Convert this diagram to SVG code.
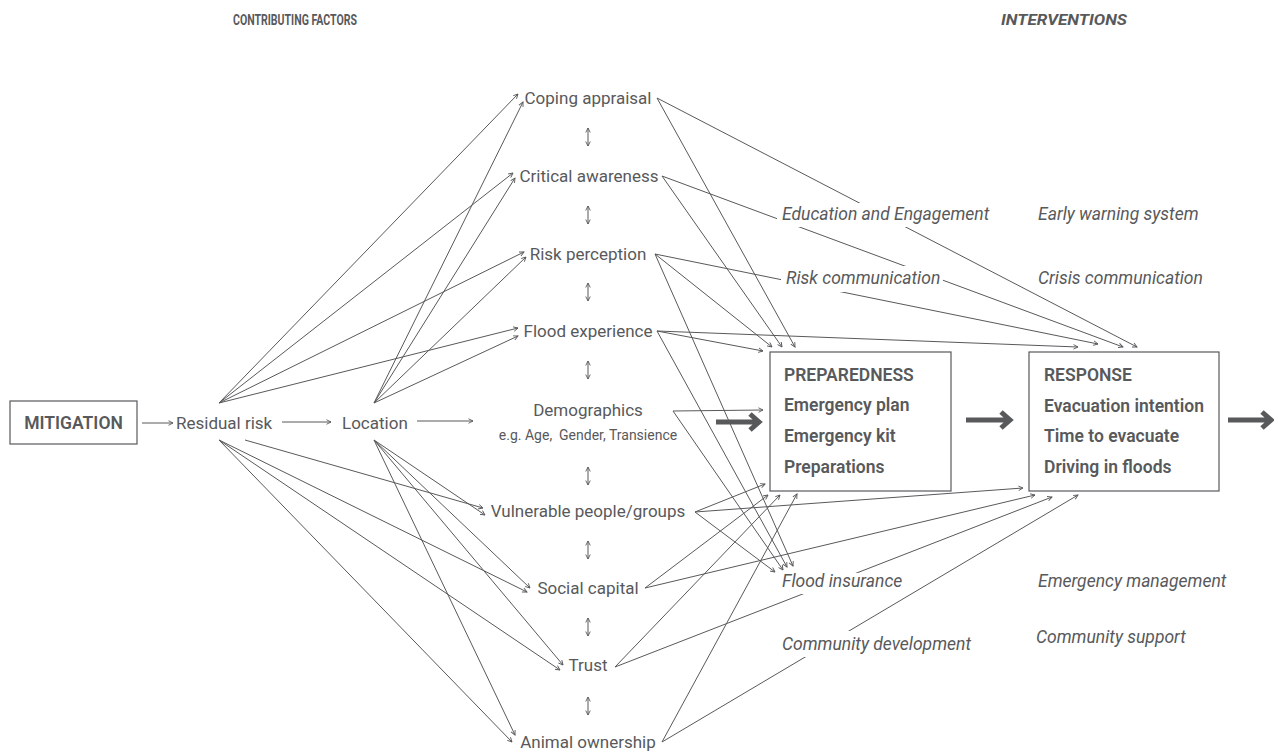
<svg xmlns="http://www.w3.org/2000/svg" width="1274" height="751" viewBox="0 0 1274 751">
<style>
text{font-family:Roboto,"Liberation Sans",sans-serif;fill:#58595b}
.n{font-size:17px;text-anchor:middle}
.l{font-size:17px}
.s{font-size:14px;text-anchor:middle}
.b{font-size:17.5px;font-weight:600}
.h{font-size:14px;font-weight:bold}
.i{font-size:17.5px;font-style:italic}
.ln{fill:none;stroke:#58595b;stroke-width:1;marker-end:url(#ah)}
.da{fill:none;stroke:#58595b;stroke-width:1;marker-end:url(#ah);marker-start:url(#ah)}
.box{fill:#fff;stroke:#58595b;stroke-width:1.2}
.halo{fill:#fff}
.thick{fill:none;stroke:#58595b;stroke-width:5}
</style>
<defs>
<marker id="ah" viewBox="0 0 8 8" refX="7" refY="4" markerWidth="6" markerHeight="6" orient="auto-start-reverse" markerUnits="userSpaceOnUse">
<path d="M1,1 L7,4 L1,7" fill="none" stroke="#58595b" stroke-width="1.2"/>
</marker>
</defs>
<rect width="1274" height="751" fill="#fff"/>

<g id="headers">
<text class="h" x="233" y="25" textLength="124" lengthAdjust="spacingAndGlyphs">CONTRIBUTING FACTORS</text>
<text class="h" x="1001" y="25" font-style="italic" textLength="126" lengthAdjust="spacingAndGlyphs">INTERVENTIONS</text>
</g>

<g id="connectors">
<line class="ln" x1="142" y1="423" x2="173" y2="423"/>
<line class="ln" x1="282" y1="422" x2="331" y2="422"/>
<line class="ln" x1="417" y1="421" x2="473" y2="421"/>
<line class="ln" x1="219" y1="403" x2="518" y2="94"/>
<line class="ln" x1="219" y1="403" x2="513" y2="173"/>
<line class="ln" x1="219" y1="403" x2="524" y2="252"/>
<line class="ln" x1="219" y1="403" x2="518" y2="328"/>
<line class="ln" x1="374" y1="403" x2="523" y2="102"/>
<line class="ln" x1="374" y1="403" x2="515" y2="178"/>
<line class="ln" x1="374" y1="403" x2="526" y2="257"/>
<line class="ln" x1="374" y1="403" x2="518" y2="336"/>
<line class="ln" x1="245" y1="440" x2="483" y2="508"/>
<line class="ln" x1="219" y1="440" x2="527" y2="592"/>
<line class="ln" x1="219" y1="440" x2="560" y2="670"/>
<line class="ln" x1="219" y1="440" x2="512" y2="742"/>
<line class="ln" x1="374" y1="440" x2="485" y2="515"/>
<line class="ln" x1="374" y1="440" x2="530" y2="588"/>
<line class="ln" x1="374" y1="440" x2="563" y2="665"/>
<line class="ln" x1="374" y1="440" x2="515" y2="735"/>
<line class="da" x1="588" y1="128" x2="588" y2="146"/>
<line class="da" x1="588" y1="206" x2="588" y2="224"/>
<line class="da" x1="588" y1="283" x2="588" y2="301"/>
<line class="da" x1="588" y1="361" x2="588" y2="379"/>
<line class="da" x1="588" y1="467" x2="588" y2="485"/>
<line class="da" x1="588" y1="541" x2="588" y2="559"/>
<line class="da" x1="588" y1="618" x2="588" y2="636"/>
<line class="da" x1="588" y1="697" x2="588" y2="715"/>
<line class="ln" x1="657" y1="98" x2="795" y2="347"/>
<line class="ln" x1="657" y1="98" x2="1137" y2="347"/>
<line class="ln" x1="662" y1="176" x2="782" y2="347"/>
<line class="ln" x1="662" y1="176" x2="1123" y2="347"/>
<line class="ln" x1="655" y1="254" x2="772" y2="347"/>
<line class="ln" x1="655" y1="254" x2="1098" y2="344"/>
<line class="ln" x1="655" y1="254" x2="793" y2="566"/>
<line class="ln" x1="657" y1="331" x2="763" y2="351"/>
<line class="ln" x1="657" y1="331" x2="1078" y2="347"/>
<line class="ln" x1="657" y1="331" x2="787" y2="567"/>
<line class="ln" x1="673" y1="411" x2="763" y2="410"/>
<line class="ln" x1="673" y1="411" x2="783" y2="570"/>
<line class="ln" x1="695" y1="512" x2="765" y2="484"/>
<line class="ln" x1="695" y1="512" x2="1023" y2="488"/>
<line class="ln" x1="695" y1="512" x2="775" y2="572"/>
<line class="ln" x1="645" y1="588" x2="768" y2="495"/>
<line class="ln" x1="645" y1="588" x2="1035" y2="495"/>
<line class="ln" x1="615" y1="667" x2="780" y2="495"/>
<line class="ln" x1="615" y1="667" x2="1052" y2="497"/>
<line class="ln" x1="662" y1="742" x2="797" y2="494"/>
<line class="ln" x1="662" y1="742" x2="1078" y2="495"/>
<path class="thick" d="M716,422 H758 M750,414 L759,422 L750,430"/>
<path class="thick" d="M966,420 H1009 M1001,412 L1010,420 L1001,428"/>
<path class="thick" d="M1228,420 H1270 M1262,412 L1271,420 L1262,428"/>
</g>

<g id="mitigation">
<rect class="box" x="10" y="401" width="127" height="43"/>
<text class="b" x="73.5" y="428.5" text-anchor="middle" font-size="15.5">MITIGATION</text>
</g>
<g id="residual-risk"><text class="l" x="176" y="429">Residual risk</text></g>
<g id="location"><text class="l" x="342" y="429">Location</text></g>

<g id="coping-appraisal"><text class="n" x="588" y="104">Coping appraisal</text></g>
<g id="critical-awareness"><text class="n" x="589" y="182">Critical awareness</text></g>
<g id="risk-perception"><text class="n" x="588" y="260">Risk perception</text></g>
<g id="flood-experience"><text class="n" x="588" y="337">Flood experience</text></g>
<g id="demographics">
<text class="n" x="588" y="416">Demographics</text>
<text class="s" x="588" y="440" xml:space="preserve">e.g. Age,  Gender, Transience</text>
</g>
<g id="vulnerable"><text class="n" x="588" y="517">Vulnerable people/groups</text></g>
<g id="social-capital"><text class="n" x="588" y="594">Social capital</text></g>
<g id="trust"><text class="n" x="588" y="671">Trust</text></g>
<g id="animal-ownership"><text class="n" x="588" y="748">Animal ownership</text></g>

<g id="preparedness">
<rect class="box" x="770" y="352" width="181" height="139"/>
<text class="b" x="784" y="381">PREPAREDNESS</text>
<text class="b" x="784" y="411">Emergency plan</text>
<text class="b" x="784" y="442">Emergency kit</text>
<text class="b" x="784" y="473">Preparations</text>
</g>
<g id="response">
<rect class="box" x="1029" y="352" width="190" height="139"/>
<text class="b" x="1044" y="381">RESPONSE</text>
<text class="b" x="1044" y="412">Evacuation intention</text>
<text class="b" x="1044" y="442">Time to evacuate</text>
<text class="b" x="1044" y="473">Driving in floods</text>
</g>

<g id="education">
<rect class="halo" x="777" y="203" width="217" height="24"/>
<text class="i" x="782" y="220">Education and Engagement</text>
</g>
<g id="early-warning"><text class="i" x="1038" y="220">Early warning system</text></g>
<g id="risk-communication">
<rect class="halo" x="781" y="266" width="162" height="26"/>
<text class="i" x="786" y="284">Risk communication</text>
</g>
<g id="crisis-communication"><text class="i" x="1038" y="284">Crisis communication</text></g>
<g id="flood-insurance">
<rect class="halo" x="778" y="573" width="128" height="21"/>
<text class="i" x="782" y="587">Flood insurance</text>
</g>
<g id="emergency-management"><text class="i" x="1038" y="587">Emergency management</text></g>
<g id="community-development">
<rect class="halo" x="778" y="631" width="197" height="26"/>
<text class="i" x="782" y="650">Community development</text>
</g>
<g id="community-support"><text class="i" x="1036" y="643">Community support</text></g>
</svg>
